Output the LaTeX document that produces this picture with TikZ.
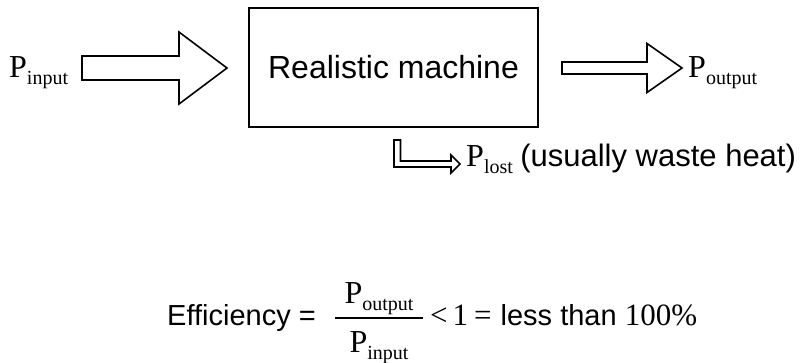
\documentclass[tikz,border=0pt]{standalone}
\usepackage{fontspec}
\setmainfont{Liberation Sans}
\newfontfamily\tms{Liberation Serif}
\usetikzlibrary{positioning, calc}
\tikzstyle{machine} = [rectangle, draw=black, line width=2pt, minimum width=289pt, minimum height=119pt, inner sep=0pt, font=\fontsize{32}{38}\selectfont]
\tikzstyle{power} = [inner sep=0pt, anchor=base west, font=\tms\fontsize{32}{38}\selectfont]
\tikzstyle{label} = [inner sep=0pt, anchor=base west, font=\fontsize{29}{35}\selectfont]
\tikzstyle{fatarrow} = [draw=black, line width=1.6pt, line join=miter, fill=white]
\newcommand{\pwr}[1]{P\raisebox{-0.22em}{\fontsize{20}{20}\selectfont #1}}
% block arrow: from, to, half shaft, half head, head length
\newcommand{\fatarrow}[5]{\draw [fatarrow] ($(#1)+(0,-#3)$) -- ($(#2)+(-#5,-#3)$) -- ($(#2)+(-#5,-#4)$) -- (#2) -- ($(#2)+(-#5,#4)$) -- ($(#2)+(-#5,#3)$) -- ($(#1)+(0,#3)$) -- cycle;}

\begin{document}
\begin{tikzpicture}[x=1pt, y=-1pt]
\useasboundingbox (0,0) rectangle (801,362);
% the machine and its powers
\node [machine] (mach) at (393.5,67.5) {Realistic machine};
\node [power] (pin) at (9,77) {\pwr{input}};
\node [power] (pout) at (688,77) {\pwr{output}};
\node [power] (plost) at (466,166) {\pwr{lost}};
\node [label, font=\fontsize{31}{37}\selectfont] (waste) at ($(plost.base east)+(7,0)$) {(usually waste heat)};
% arrows
\coordinate (inA) at (82,68);
\coordinate (inB) at (227,68);
\fatarrow{inA}{inB}{12}{36}{48}
\coordinate (outA) at (562,68);
\coordinate (outB) at (682,68);
\fatarrow{outA}{outB}{6}{24.5}{35}
\coordinate (lostA) at (394,140);
\coordinate (lostB) at (460,164);
\draw [fatarrow] (lostA) |- ($(lostB)+(-9,3)$) -- ++(0,6) -- (lostB) -- ($(lostB)+(-9,-9)$) -- ++(0,6) -| ($(lostA)+(6.5,0)$) -- cycle;
% efficiency
\node [label] (eff) at (167,325) {Efficiency =};
\coordinate (barL) at (335,318);
\coordinate (barR) at (423,318);
\draw [line width=1.2pt] (barL) -- (barR);
\node [power, anchor=base] (fnum) at (379,303) {\pwr{output}};
\node [power, anchor=base] (fden) at (379,352) {\pwr{input}};
\node [label] (rest) at (430,325) {{\tms\fontsize{31}{37}\selectfont <\hspace{5pt}1\hspace{6pt}=}\hspace{9pt}less than {\tms\fontsize{31}{37}\selectfont 100\%}};
\end{tikzpicture}
\end{document}
